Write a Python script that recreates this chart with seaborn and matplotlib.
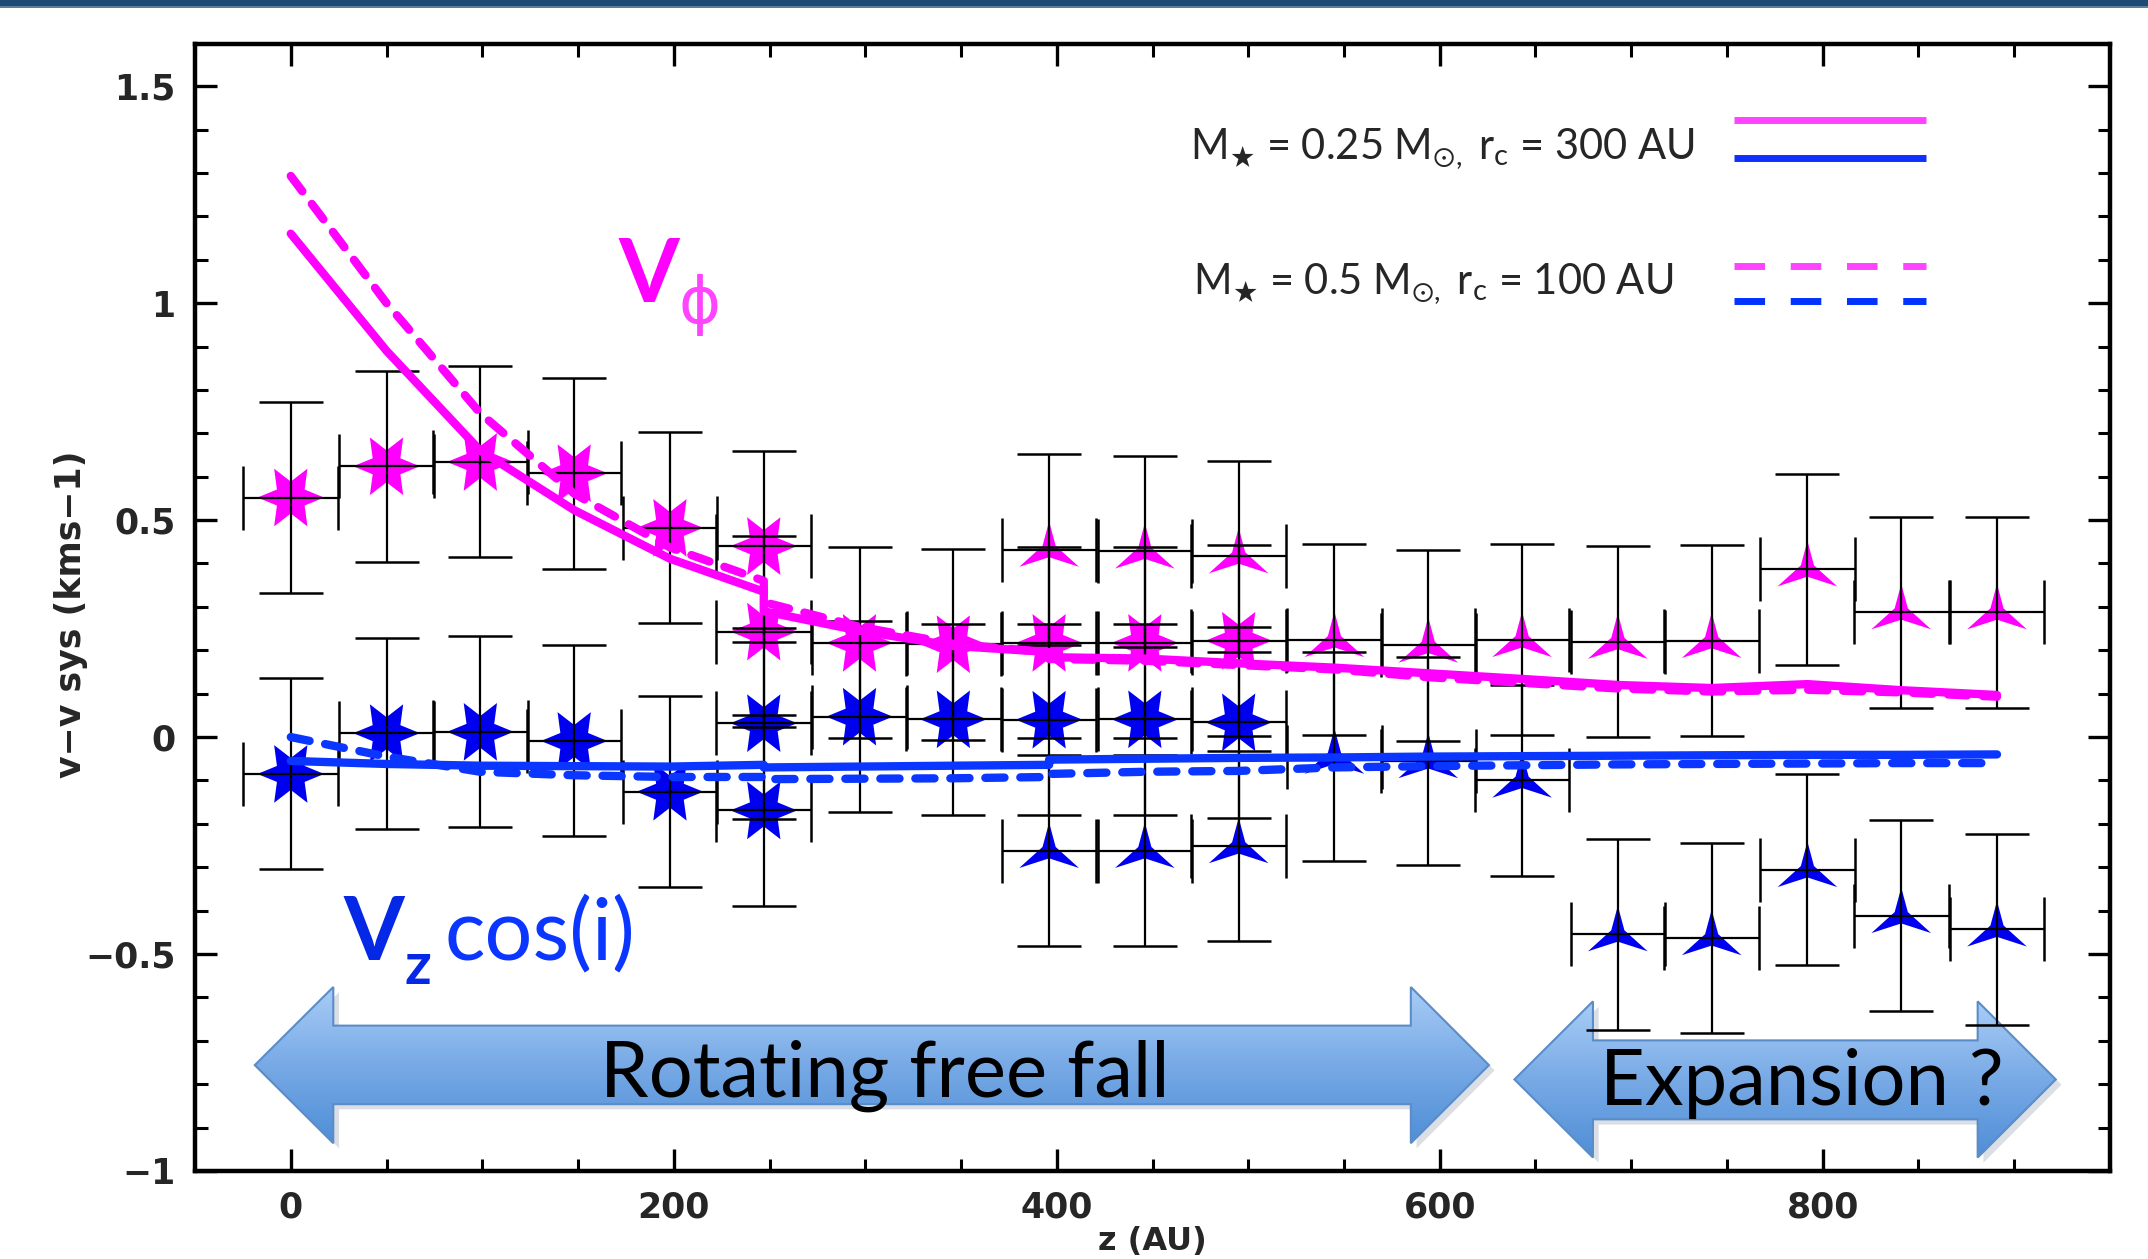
import numpy as np
import pandas as pd
import matplotlib
matplotlib.use("Agg")
import matplotlib.pyplot as plt
import seaborn as sns
from matplotlib.patches import Polygon, Rectangle
from matplotlib.colors import LinearSegmentedColormap
from matplotlib.ticker import FixedLocator, FixedFormatter, MultipleLocator

# ---------------- data ----------------
# 6-pointed stars (observations, first component)
z_hex = [0, 50, 99, 148, 198, 247, 247, 297, 346, 396, 446, 495]
vphi_hex = [0.552, 0.624, 0.634, 0.608, 0.482, 0.44, 0.243, 0.217, 0.214, 0.217, 0.217, 0.222]
vz_hex = [-0.085, 0.009, 0.012, -0.009, -0.126, 0.032, -0.169, 0.047, 0.041, 0.04, 0.041, 0.034]
vphi_hex_err = [0.22, 0.22, 0.22, 0.22, 0.22, 0.22, 0.22, 0.22, 0.22, 0.22, 0.22, 0.22]
vz_hex_err = [0.22, 0.22, 0.22, 0.22, 0.22, 0.22, 0.22, 0.22, 0.22, 0.22, 0.22, 0.22]

# 3-pointed stars (observations, second component)
z_tri = [396, 446, 495, 545, 594, 643, 693, 742, 792, 841, 891]
vphi_tri = [0.432, 0.428, 0.417, 0.224, 0.211, 0.224, 0.22, 0.222, 0.387, 0.288, 0.288]
vz_tri = [-0.262, -0.262, -0.251, -0.045, -0.055, -0.1, -0.454, -0.463, -0.306, -0.412, -0.443]
vphi_tri_err = [0.22, 0.22, 0.22, 0.22, 0.22, 0.22, 0.22, 0.22, 0.22, 0.22, 0.22]
vz_tri_err = [0.22, 0.22, 0.22, 0.24, 0.24, 0.22, 0.22, 0.22, 0.22, 0.22, 0.22]
z_halfwidth = 24.7

# models
model_z = [0, 50, 99, 148, 198, 247, 247, 297, 346, 396, 396, 446, 495, 545, 594, 643, 693, 742, 792, 841, 891]
vphi_m025 = [1.16, 0.89, 0.66, 0.523, 0.411, 0.335, 0.29, 0.245, 0.21, 0.196, 0.184, 0.181, 0.17, 0.16, 0.147,
             0.134, 0.12, 0.113, 0.122, 0.108, 0.097]
vphi_m05 = [1.293, 1.0, 0.746, 0.561, 0.437, 0.36, 0.311, 0.254, 0.215, 0.195, 0.18, 0.176, 0.166, 0.156, 0.138,
            0.125, 0.112, 0.105, 0.109, 0.103, 0.093]
vz_m025 = [-0.055, -0.062, -0.066, -0.067, -0.068, -0.064, -0.07, -0.068, -0.066, -0.064, -0.052, -0.05, -0.048,
           -0.047, -0.045, -0.044, -0.043, -0.042, -0.041, -0.041, -0.04]
vz_m05 = [0.0, -0.045, -0.08, -0.088, -0.092, -0.092, -0.097, -0.096, -0.095, -0.092, -0.085, -0.08, -0.078,
          -0.07, -0.067, -0.065, -0.063, -0.062, -0.061, -0.06, -0.06]

xtick_vals = [0, 200, 400, 600, 800]
xtick_labels = ["0", "200", "400", "600", "800"]
ytick_vals = [-1, -0.5, 0, 0.5, 1, 1.5]
ytick_labels = ["\u22121", "\u22120.5", "0", "0.5", "1", "1.5"]

legend_labels = [r"M$_{\bigstar}$ = 0.25 M$_{\odot,}$ r$_{\mathregular{c}}$ = 300 AU",
                 r"M$_{\bigstar}$ = 0.5 M$_{\odot,}$ r$_{\mathregular{c}}$ = 100 AU"]

# ---------------- style ----------------
sns.set_theme(style="ticks")
plt.rcParams["font.family"] = ["DejaVu Sans"]
plt.rcParams["mathtext.fontset"] = "custom"
plt.rcParams["mathtext.rm"] = "Lato"
plt.rcParams["mathtext.it"] = "Lato:italic"
plt.rcParams["mathtext.bf"] = "Lato:bold"
plt.rcParams["mathtext.fallback"] = "stixsans"

MAG = "#FF00FF"
MAG_L = "#FF44FF"
BLUE = "#0000F0"
BLUE_L = "#0A36FF"

fig = plt.figure(figsize=(21.48, 12.59), dpi=100)
ax = fig.add_axes([0.0908, 0.0699, 0.8915, 0.8951])

# marker shapes
ang6 = np.deg2rad(np.arange(12) * 30.0)
rad6 = np.where(np.arange(12) % 2 == 0, 1.0, 0.48)
hex_star = list(zip(rad6 * np.cos(ang6), rad6 * np.sin(ang6)))
ang3 = np.deg2rad(90 + np.arange(6) * 60.0)
rad3 = np.array([0.82, 0.22, 1.0, 0.22, 1.0, 0.22])
tri_star = list(zip(rad3 * np.cos(ang3), rad3 * np.sin(ang3)))

# ---------------- arrows ----------------
cmap_arrow = LinearSegmentedColormap.from_list("arr", ["#4F8ED6", "#78AAE6", "#A9CDF6"])


def block_arrow(tl, bl, br, tr, yc, st, sb, ht, hb):
    verts = [(tl, yc), (bl, ht), (bl, st), (br, st), (br, ht), (tr, yc),
             (br, hb), (br, sb), (bl, sb), (bl, hb)]
    shadow = Polygon([(x + 3, y - 0.012) for x, y in verts], closed=True,
                     facecolor="#9aa5b5", edgecolor="none", alpha=0.35, zorder=0.8)
    ax.add_patch(shadow)
    poly = Polygon(verts, closed=True, facecolor="none", edgecolor="#5A8DC8", lw=1.5, zorder=1.1)
    ax.add_patch(poly)
    grad = np.linspace(0, 1, 256).reshape(-1, 1)
    im = ax.imshow(grad, cmap=cmap_arrow, origin="lower", aspect="auto",
                   extent=(tl, tr, hb, ht), zorder=1.0, interpolation="bicubic")
    im.set_clip_path(poly)


block_arrow(-18.8, 22.2, 584.9, 625.7, -0.756, -0.665, -0.846, -0.576, -0.936)
block_arrow(639.0, 680.0, 880.9, 921.7, -0.789, -0.699, -0.881, -0.609, -0.969)

ax.text(310, -0.828, "Rotating free fall", family=["Lato", "DejaVu Sans"], fontsize=56,
        ha="center", va="baseline", color="black", zorder=5)
ax.text(789, -0.848, "Expansion ?", family=["Lato", "DejaVu Sans"], fontsize=56,
        ha="center", va="baseline", color="black", zorder=5)

# ---------------- observations ----------------
df_hex = pd.DataFrame({"z": z_hex, "vphi": vphi_hex, "vz": vz_hex})
df_tri = pd.DataFrame({"z": z_tri, "vphi": vphi_tri, "vz": vz_tri})

sns.scatterplot(data=df_hex, x="z", y="vphi", marker=hex_star, s=2300, color=MAG,
                edgecolor="none", linewidth=0, ax=ax, zorder=2, legend=False)
sns.scatterplot(data=df_hex, x="z", y="vz", marker=hex_star, s=2300, color=BLUE,
                edgecolor="none", linewidth=0, ax=ax, zorder=2, legend=False)
sns.scatterplot(data=df_tri, x="z", y="vphi", marker=tri_star, s=1850, color=MAG,
                edgecolor="none", linewidth=0, ax=ax, zorder=2, legend=False)
sns.scatterplot(data=df_tri, x="z", y="vz", marker=tri_star, s=1850, color=BLUE,
                edgecolor="none", linewidth=0, ax=ax, zorder=2, legend=False)

eb_kw = dict(fmt="none", ecolor="black", elinewidth=1.6, capsize=23, capthick=1.8, zorder=3)
ax.errorbar(z_hex, vphi_hex, yerr=vphi_hex_err, xerr=z_halfwidth, **eb_kw)
ax.errorbar(z_hex, vz_hex, yerr=vz_hex_err, xerr=z_halfwidth, **eb_kw)
ax.errorbar(z_tri, vphi_tri, yerr=vphi_tri_err, xerr=z_halfwidth, **eb_kw)
ax.errorbar(z_tri, vz_tri, yerr=vz_tri_err, xerr=z_halfwidth, **eb_kw)

# ---------------- models ----------------
df_mod = pd.DataFrame({"z": model_z, "p025": vphi_m025, "p05": vphi_m05, "z025": vz_m025, "z05": vz_m05})
for col, colr, dashed in [("p025", MAG, False), ("p05", MAG, True), ("z025", BLUE_L, False), ("z05", BLUE_L, True)]:
    n_before = len(ax.lines)
    sns.lineplot(data=df_mod, x="z", y=col, sort=False, estimator=None, errorbar=None,
                 color=colr, linewidth=6, ax=ax, zorder=4, legend=False)
    for ln in ax.lines[n_before:]:
        ln.set_linewidth(6)
        ln.set_solid_joinstyle("round")
        ln.set_solid_capstyle("round")
        ln.set_zorder(4)
        if dashed:
            ln.set_dashes((2.3, 1.9))
            ln.set_dash_capstyle("round")
            ln.set_dash_joinstyle("round")

# ---------------- legend (drawn inside plot) ----------------
ax.text(469.5, 1.332, legend_labels[0], fontsize=30, family=["Lato", "DejaVu Sans"], va="baseline", ha="left", zorder=5)
ax.text(471.0, 1.021, legend_labels[1], fontsize=30, family=["Lato", "DejaVu Sans"], va="baseline", ha="left", zorder=5)
ax.plot([753.5, 854], [1.421, 1.421], color=MAG_L, lw=5, solid_capstyle="butt", zorder=5)
ax.plot([753.5, 854], [1.3355, 1.3355], color="#1030FF", lw=5, solid_capstyle="butt", zorder=5)
l1, = ax.plot([753.5, 854], [1.086, 1.086], color=MAG_L, lw=5, zorder=5)
l2, = ax.plot([753.5, 854], [1.004, 1.004], color="#0033FF", lw=5, zorder=5)
for l in (l1, l2):
    l.set_dashes((4.4, 3.7))
    l.set_dash_capstyle("butt")

# ---------------- labels in plot ----------------
ax.text(171, 1.002, "V", fontsize=63, fontweight="bold", family=["Lato", "DejaVu Sans"], color=MAG,
        va="baseline", ha="left", zorder=5)
ax.text(202.5, 0.955, "\u03d5", fontsize=46, family=["Open Sans", "DejaVu Sans"], color=MAG_L,
        va="baseline", ha="left", zorder=5)
ax.text(27.5, -0.513, "V", fontsize=63, fontweight="bold", family=["Lato", "DejaVu Sans"], color="#0528E6",
        va="baseline", ha="left", zorder=5)
ax.text(59.5, -0.568, "z", fontsize=42, fontweight="bold", family=["Lato", "DejaVu Sans"], color="#0528E6",
        va="baseline", ha="left", zorder=5)
ax.text(80.5, -0.513, "cos(i)", fontsize=61, family=["Lato", "DejaVu Sans"], color=BLUE_L,
        va="baseline", ha="left", zorder=5)

# ---------------- axes ----------------
ax.set_xlim(-50, 950)
ax.set_ylim(-1, 1.597)
ax.xaxis.set_major_locator(FixedLocator(xtick_vals))
ax.xaxis.set_major_formatter(FixedFormatter(xtick_labels))
ax.yaxis.set_major_locator(FixedLocator(ytick_vals))
ax.yaxis.set_major_formatter(FixedFormatter(ytick_labels))
ax.xaxis.set_minor_locator(MultipleLocator(50))
ax.yaxis.set_minor_locator(MultipleLocator(0.1))
ax.tick_params(which="both", direction="in", top=True, right=True, color="black")
ax.tick_params(which="major", length=16, width=2.4, labelsize=25, pad=14)
ax.tick_params(which="minor", length=9, width=2.2)
for lab in ax.get_xticklabels() + ax.get_yticklabels():
    lab.set_fontweight("bold")
    lab.set_family("DejaVu Sans")
for sp in ax.spines.values():
    sp.set_linewidth(3.2)
    sp.set_color("black")
    sp.set_visible(True)

ax.set_xlabel("z (AU)", fontsize=23, fontweight="bold", family="DejaVu Sans")
ax.set_ylabel("v\u2212v sys (kms\u22121)", fontsize=25, fontweight="bold", family="DejaVu Sans")
ax.xaxis.set_label_coords(0.5, -0.049)
ax.xaxis.label.set_va("top")
ax.yaxis.set_label_coords(-0.056, 0.494)
ax.set_facecolor("white")
ax.grid(False)

# slide header band
fig.patches.append(Rectangle((0, 1 - 6 / 1259), 1, 6 / 1259, transform=fig.transFigure,
                             facecolor="#1F4A75", edgecolor="none", zorder=10))
fig.patches.append(Rectangle((0, 1 - 8 / 1259), 1, 2 / 1259, transform=fig.transFigure,
                             facecolor="#5E7E9E", edgecolor="none", zorder=10))

fig.savefig("out.png", dpi=100, facecolor="white")
